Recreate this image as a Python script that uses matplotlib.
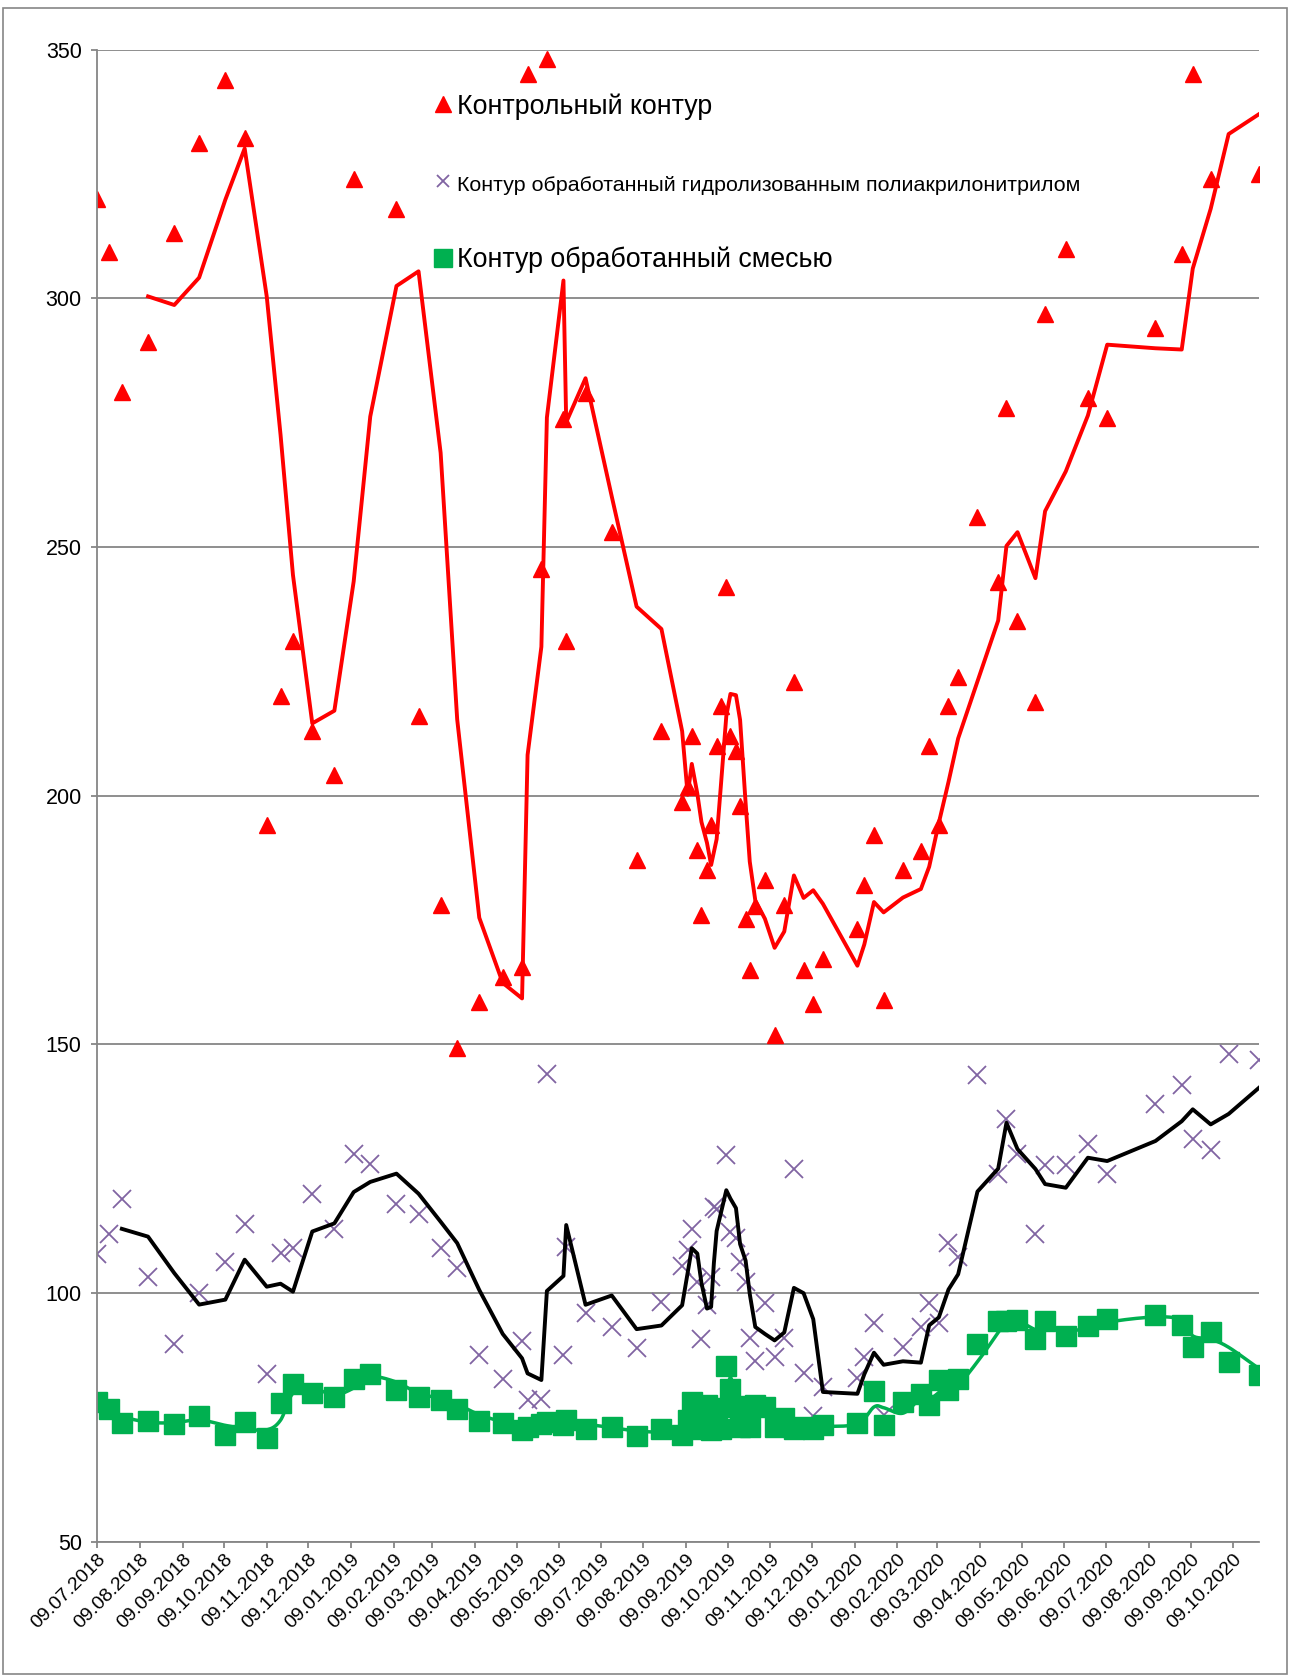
import numpy as np
import pandas as pd
import matplotlib
matplotlib.use("Agg")
import matplotlib.pyplot as plt
import matplotlib.dates as mdates
from matplotlib.lines import Line2D
from matplotlib.patches import Rectangle

plt.rcParams["font.family"] = ["Liberation Sans", "DejaVu Sans"]

# ==========================================================
# DATA
# ==========================================================

dates = [
    "09.07.2018", "18.07.2018", "27.07.2018", "15.08.2018", "03.09.2018", "21.09.2018",
    "10.10.2018", "24.10.2018", "09.11.2018", "19.11.2018", "28.11.2018", "12.12.2018",
    "28.12.2018", "11.01.2019", "23.01.2019", "11.02.2019", "27.02.2019", "15.03.2019",
    "27.03.2019", "12.04.2019", "29.04.2019", "13.05.2019", "17.05.2019", "27.05.2019",
    "31.05.2019", "12.06.2019", "14.06.2019", "28.06.2019", "17.07.2019", "04.08.2019",
    "22.08.2019", "06.09.2019", "10.09.2019", "13.09.2019", "17.09.2019", "20.09.2019",
    "24.09.2019", "27.09.2019", "29.09.2019", "01.10.2019", "04.10.2019", "08.10.2019",
    "11.10.2019", "15.10.2019", "18.10.2019", "22.10.2019", "25.10.2019", "29.10.2019",
    "05.11.2019", "12.11.2019", "19.11.2019", "26.11.2019", "03.12.2019", "10.12.2019",
    "17.12.2019", "11.01.2020", "16.01.2020", "23.01.2020", "30.01.2020", "13.02.2020",
    "26.02.2020", "03.03.2020", "10.03.2020", "17.03.2020", "24.03.2020", "07.04.2020",
    "22.04.2020", "28.04.2020", "06.05.2020", "19.05.2020", "26.05.2020", "10.06.2020",
    "26.06.2020", "10.07.2020", "14.08.2020", "02.09.2020", "10.09.2020", "23.09.2020",
    "06.10.2020", "28.10.2020",
]

control = [
    320.0, 309.2, 281.1, 291.1, 313.1, 331.2,
    343.8, 332.3, 194.0, 220.0, 231.0, 213.0,
    204.2, 324.0, 363.6, 318.0, 216.0, 178.0,
    149.2, 158.5, 163.6, 165.5, 345.0, 245.5,
    348.0, 275.7, 231.0, 280.9, 252.9, 187.1,
    213.0, 198.7, 201.8, 211.9, 189.1, 175.9,
    185.0, 194.1, None, 209.9, 217.9, 242.0,
    211.9, 208.9, 197.9, 175.1, 164.9, 177.8,
    183.0, 151.8, 178.0, 222.9, 164.9, 158.0,
    167.1, 173.1, 182.0, 192.1, 158.8, 185.0,
    188.9, 210.0, 194.1, 217.9, 223.9, 255.9,
    243.0, 277.9, 235.0, 218.9, 296.9, 309.9,
    279.9, 275.9, 294.0, 308.9, 345.0, 324.0,
    354.1, 324.9,
]

hpan = [
    107.9, 111.8, 118.9, 103.2, 89.8, 99.9,
    106.2, 113.9, 83.6, 108.0, 109.1, 119.9,
    112.9, 128.0, 126.0, 117.9, 115.9, 109.1,
    105.0, 87.6, 82.6, 90.3, 78.5, 78.6,
    144.0, 87.6, 109.3, 95.9, 93.2, 89.0,
    98.1, 105.4, 108.6, 112.9, 102.2, 90.8,
    97.5, 103.2, 117.3, 116.8, None, 127.8,
    112.2, 111.1, 106.1, 102.2, 91.0, 86.2,
    98.0, 87.1, 91.0, 124.9, 83.9, 75.3,
    81.0, 82.8, 87.1, 94.0, 75.5, 89.2,
    93.2, 98.0, 94.0, 110.0, 107.2, 143.9,
    123.8, 134.9, 128.0, 111.8, 125.8, 125.8,
    129.9, 123.8, 137.9, 141.8, 131.0, 128.8,
    148.1, 146.8,
]

mix = [
    78.1, 76.7, 73.8, 74.2, 73.6, 75.3,
    71.4, 74.0, 70.9, 77.9, 81.7, 79.9,
    79.1, 82.6, 83.7, 80.4, 79.1, 78.5,
    76.7, 74.3, 73.8, 72.4, 73.0, 73.6,
    74.0, 73.5, 74.5, 72.7, 73.1, 71.3,
    72.7, 71.5, 74.5, 78.1, 76.5, 72.7,
    77.5, 72.5, None, 76.8, 72.7, 85.3,
    80.6, 77.0, 73.1, 77.2, 73.1, 77.4,
    77.0, 73.1, 74.9, 72.7, 73.1, 72.7,
    73.5, 73.8, None, 80.3, 73.5, 78.1,
    79.6, 77.5, 82.4, 80.4, 82.6, 89.7,
    94.3, 94.3, 94.5, 90.7, 94.4, 91.4,
    93.3, 94.8, 95.5, 93.5, 89.2, 92.1,
    86.0, 83.5,
]

labels = [
    "Контрольный контур",
    "Контур обработанный гидролизованным полиакрилонитрилом",
    "Контур обработанный смесью",
]

RED = "#FF0000"
PURPLE = "#8064A2"
GREEN = "#00B050"
GRAY = "#868686"

# ==========================================================
# HELPERS
# ==========================================================

x = pd.to_datetime(dates, format="%d.%m.%Y")


def series(vals):
    s = pd.Series([np.nan if v is None else v for v in vals], index=x)
    return s.dropna()


def smooth(xs, ys, n=16):
    # Excel-like smoothed line (Catmull-Rom through the points)
    p = np.column_stack([xs, ys])
    p = np.vstack([p[0], p, p[-1]])
    out = []
    t = np.linspace(0, 1, n)[:, None]
    for i in range(1, len(p) - 2):
        p0, p1, p2, p3 = p[i - 1], p[i], p[i + 1], p[i + 2]
        c1 = p1 + (p2 - p0) / 6
        c2 = p2 - (p3 - p1) / 6
        seg = ((1 - t) ** 3) * p1 + 3 * ((1 - t) ** 2) * t * c1 \
            + 3 * (1 - t) * t ** 2 * c2 + t ** 3 * p2
        out.append(seg if i == 1 else seg[1:])
    out = np.vstack(out)
    return out[:, 0], out[:, 1]


s_ctrl = series(control)
s_hpan = series(hpan)
s_mix = series(mix)

ma_ctrl = s_ctrl.rolling(4).mean().dropna()
ma_hpan = s_hpan.rolling(3).mean().dropna()
ma_mix = s_mix.rolling(2).mean().dropna()

# ==========================================================
# PLOT
# ==========================================================

fig = plt.figure(figsize=(12.93, 16.78), dpi=100)
ax = fig.add_axes([97 / 1293, 1 - 1541.5 / 1678, 1162 / 1293, 1492 / 1678])

ax.plot(s_ctrl.index, s_ctrl.values, ls="none", marker="^", ms=11,
        color=RED, mec=RED, zorder=3)
ax.plot(s_hpan.index, s_hpan.values, ls="none", marker="x", ms=13,
        mew=1.3, color=PURPLE, zorder=4)
ax.plot(s_mix.index, s_mix.values, ls="none", marker="s", ms=14.4,
        color=GREEN, mec=GREEN, zorder=5)

ax.plot(ma_ctrl.index, ma_ctrl.values, color=RED, lw=2.8, zorder=6)
ax.plot(ma_hpan.index, ma_hpan.values, color="black", lw=2.8, zorder=6)
gx, gy = smooth(mdates.date2num(ma_mix.index), ma_mix.values)
ax.plot(gx, gy, color=GREEN, lw=2.5, zorder=6)

ax.set_xlim(x[0], x[-1])
ax.set_ylim(50, 350)
ax.set_yticks(np.arange(50, 351, 50))

ax.xaxis.set_major_locator(mdates.MonthLocator(bymonthday=9))
ax.xaxis.set_major_formatter(mdates.DateFormatter("%d.%m.%Y"))

ax.grid(axis="y", color=GRAY, lw=1.3)
ax.set_axisbelow(True)
for side in ["top", "right"]:
    ax.spines[side].set_visible(False)
for side in ["left", "bottom"]:
    ax.spines[side].set_color(GRAY)
    ax.spines[side].set_linewidth(1.3)
    ax.spines[side].set_zorder(7)

ax.tick_params(axis="both", colors=GRAY, length=4, width=1.3, direction="out",
               labelcolor="black", labelsize=14)
ax.tick_params(axis="x", pad=3)
ax.tick_params(axis="y", labelsize=15.5, pad=7)
for lab in ax.get_xticklabels():
    lab.set_rotation(45)
    lab.set_ha("right")
    lab.set_va("top")
    lab.set_rotation_mode("anchor")

handles = [
    Line2D([], [], ls="none", marker="^", ms=11, color=RED),
    Line2D([], [], ls="none", marker="x", ms=9, mew=1.3, color=PURPLE),
    Line2D([], [], ls="none", marker="s", ms=13, color=GREEN),
]
leg = ax.legend(handles, labels, loc="upper left", bbox_to_anchor=(0.279, 0.978),
                frameon=False, handlelength=0.8, handletextpad=0.12,
                labelspacing=1.95, fontsize=19.3, borderaxespad=0)
leg.get_texts()[1].set_fontsize(15.4)

fig.patches.append(Rectangle((3 / 1293, 4 / 1678), 1284 / 1293, 1666 / 1678,
                             transform=fig.transFigure, fill=False,
                             ec=GRAY, lw=1.2))

fig.savefig("out.png", dpi=100)
